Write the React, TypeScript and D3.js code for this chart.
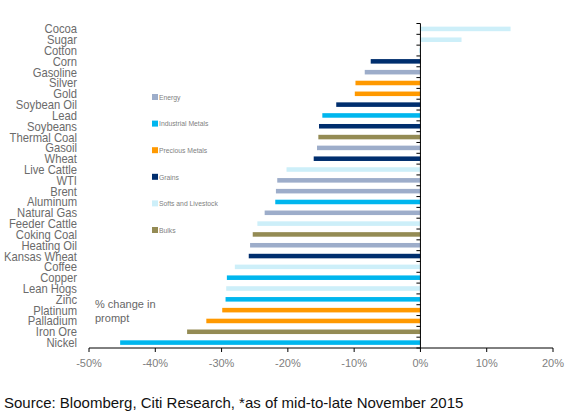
import React from "react";
import * as d3 from "d3";

const commodities = [
  "Cocoa", "Sugar", "Cotton", "Corn", "Gasoline", "Silver", "Gold", "Soybean Oil",
  "Lead", "Soybeans", "Thermal Coal", "Gasoil", "Wheat", "Live Cattle", "WTI", "Brent",
  "Aluminum", "Natural Gas", "Feeder Cattle", "Coking Coal", "Heating Oil", "Kansas Wheat",
  "Coffee", "Copper", "Lean Hogs", "Zinc", "Platinum", "Palladium", "Iron Ore", "Nickel",
];
const changes = [
  13.6, 6.2, -0.2, -7.5, -8.4, -9.8, -9.9, -12.7,
  -14.8, -15.3, -15.4, -15.6, -16.1, -20.2, -21.6, -21.8,
  -21.9, -23.5, -24.6, -25.3, -25.7, -25.9,
  -28.0, -29.2, -29.3, -29.4, -29.9, -32.3, -35.2, -45.3,
];
const groups = [
  "Softs and Livestock", "Softs and Livestock", "Softs and Livestock", "Grains", "Energy",
  "Precious Metals", "Precious Metals", "Grains", "Industrial Metals", "Grains", "Bulks",
  "Energy", "Grains", "Softs and Livestock", "Energy", "Energy", "Industrial Metals",
  "Energy", "Softs and Livestock", "Bulks", "Energy", "Grains", "Softs and Livestock",
  "Industrial Metals", "Softs and Livestock", "Industrial Metals", "Precious Metals",
  "Precious Metals", "Bulks", "Industrial Metals",
];
const legendNames = ["Energy", "Industrial Metals", "Precious Metals", "Grains", "Softs and Livestock", "Bulks"];
const legendColors = ["#9dadca", "#00b6ee", "#ff9900", "#002e6e", "#cdeff9", "#948b54"];
const xTicks = [-50, -40, -30, -20, -10, 0, 10, 20];

export default function App() {
  const W = 577;
  const H = 419;
  const x = d3.scaleLinear().domain([-50, 20]).range([89, 553]);
  const y = d3
    .scaleBand<string>()
    .domain(commodities)
    .range([23.5, 348])
    .paddingInner(0.58)
    .paddingOuter(0.29);
  const color = d3.scaleOrdinal<string, string>().domain(legendNames).range(legendColors);
  const step = y.step();
  const top = y.range()[0];
  const bottom = y.range()[1];
  const x0 = x(0);
  const boundaries = d3.range(commodities.length + 1).map((i) => top + i * step);
  const legendY = d3.scalePoint<string>().domain(legendNames).range([97, 230]);

  return (
    <svg
      width={W}
      height={H}
      style={{ position: "absolute", left: 0, top: 0, background: "#fff" }}
      fontFamily="'Liberation Sans', Arial, sans-serif"
    >
      {/* bars */}
      {commodities.map((c, i) => {
        const v = changes[i];
        const xa = Math.min(x(v), x0);
        const w = Math.abs(x(v) - x0);
        return (
          <rect
            key={c}
            x={xa}
            y={y(c)}
            width={Math.max(w, 0.8)}
            height={y.bandwidth()}
            fill={color(groups[i])}
          />
        );
      })}

      {/* category labels */}
      {commodities.map((c) => (
        <g key={"l" + c} transform={`translate(77,${(y(c) as number) + y.bandwidth() / 2}) scale(0.9,1)`}>
          <text x={0} y={0} dy="0.36em" textAnchor="end" fontSize={12.5} fill="#6b6b6b">
            {c}
          </text>
        </g>
      ))}

      {/* y axis at zero */}
      <line x1={x0} x2={x0} y1={top} y2={bottom} stroke="#000" strokeWidth={1} />
      {boundaries.map((b, i) => (
        <line key={"yt" + i} x1={x0 - 4} x2={x0} y1={b} y2={b} stroke="#000" strokeWidth={1} />
      ))}

      {/* x axis */}
      <line x1={x(-50)} x2={x(20)} y1={bottom} y2={bottom} stroke="#000" strokeWidth={1} />
      {xTicks.map((t) => (
        <g key={"xt" + t}>
          <line x1={x(t)} x2={x(t)} y1={bottom} y2={bottom + 4} stroke="#000" strokeWidth={1} />
          <text x={x(t)} y={bottom + 19} textAnchor="middle" fontSize={11} fill="#808080">
            {t + "%"}
          </text>
        </g>
      ))}

      {/* legend */}
      {legendNames.map((n) => (
        <g key={"lg" + n} transform={`translate(152,${legendY(n)})`}>
          <rect x={0} y={-3} width={6} height={6} fill={color(n)} />
          <g transform="translate(7,0) scale(0.85,1)">
            <text x={0} y={0} dy="0.35em" fontSize={8} fill="#7f7f7f">
              {n}
            </text>
          </g>
        </g>
      ))}

      {/* annotation */}
      <text x={95} y={308} fontSize={11} fill="#666">
        % change in
      </text>
      <text x={95} y={322} fontSize={11} fill="#666">
        prompt
      </text>

      {/* source */}
      <text x={4} y={408} fontSize={15} fill="#111">
        Source: Bloomberg, Citi Research, *as of mid-to-late November 2015
      </text>
    </svg>
  );
}
